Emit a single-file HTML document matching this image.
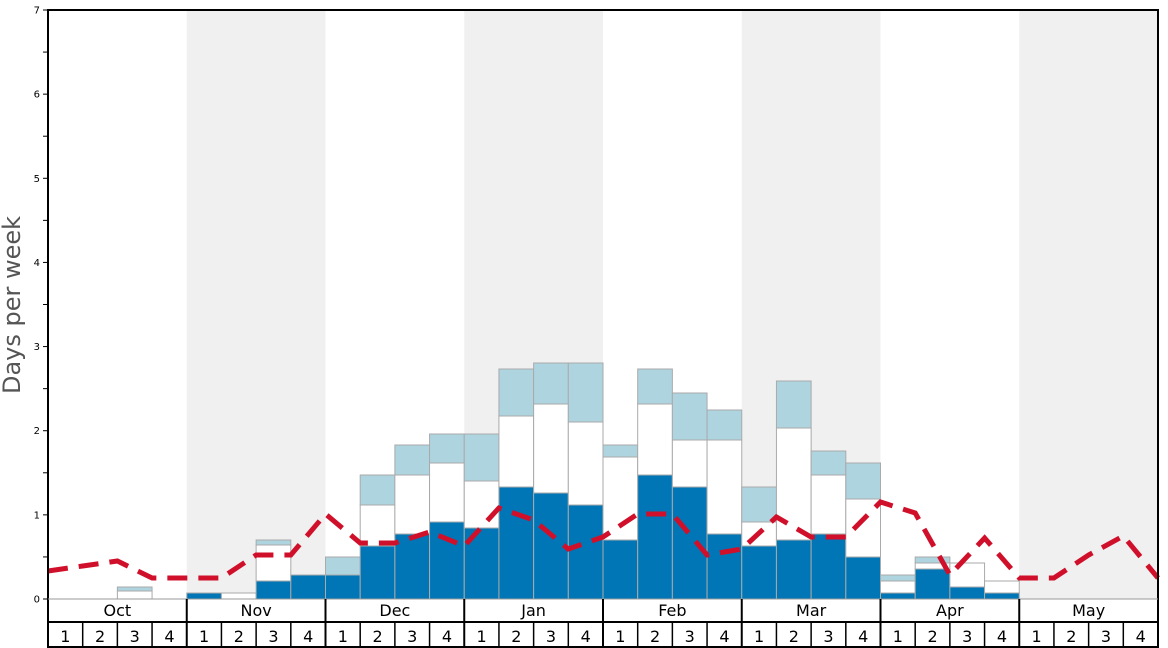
<!DOCTYPE html>
<html><head><meta charset="utf-8"><style>
body{margin:0;background:#fff;}
svg{display:block;font-family:"DejaVu Sans","Liberation Sans",sans-serif;}
</style></head><body>
<svg id="s" width="1168" height="648" viewBox="0 0 1168 648" xmlns="http://www.w3.org/2000/svg">
<rect width="1168" height="648" fill="#fff"/>
<g id="bg"></g>
<g id="bars"></g>
<g id="line"></g>
<g id="axes"></g>
</svg>
<script>
const NS="http://www.w3.org/2000/svg";
function el(p,t,a,txt){const e=document.createElementNS(NS,t);for(const k in a)e.setAttribute(k,a[k]);if(txt!==undefined)e.textContent=txt;document.getElementById(p).appendChild(e);return e;}
const X0=48,X1=1158,W=(X1-X0)/32,Y0=599,T=10;
const months=["Oct","Nov","Dec","Jan","Feb","Mar","Apr","May"];
for(let m=0;m<8;m++){if(m%2==1)el("bg","rect",{x:X0+m*4*W,y:T,width:4*W,height:Y0-T,fill:"#f0f0f0"});}
const B=[null,null,[599,591,587],null,
[593,593,593],[599,593,593],[581,545,540],[575,575,575],
[575,575,557],[546,505,475],[534,475,445],[522,463,434],
[528,481,434],[487,416,369],[493,404,363],[505,422,363],
[540,457,445],[475,404,369],[487,440,393],[534,440,410],
[546,522,487],[540,428,381],[534,475,451],[557,499,463],
[593,581,575],[569,563,557],[587,563,563],[593,581,581],
null,null,null,null];
B.forEach((b,i)=>{if(!b)return;const x=X0+i*W;
 if(b[2]<b[1])el("bars","rect",{x:x,y:b[2],width:W,height:b[1]-b[2],fill:"#aed4e0",stroke:"#aaa","stroke-width":1});
 if(b[1]<b[0])el("bars","rect",{x:x,y:b[1],width:W,height:b[0]-b[1],fill:"#fff",stroke:"#aaa","stroke-width":1});
 if(b[0]<Y0)el("bars","rect",{x:x,y:b[0],width:W,height:Y0-b[0],fill:"#0076b6",stroke:"#aaa","stroke-width":1});
});
const L=[571,566,561,578,578,578,555,555,514,543,543,532,546,508,520,549,537,514,514,555,549,517,537,537,502,513,575,538,578,578,555,536,578];
el("line","polyline",{points:L.map((y,k)=>(X0+k*W).toFixed(1)+","+y).join(" "),fill:"none",stroke:"#d0102a","stroke-width":5,"stroke-dasharray":"20,11"});
el("axes","rect",{x:X0,y:T,width:X1-X0,height:647-T,fill:"none",stroke:"#000","stroke-width":2});
el("axes","line",{x1:X0,y1:Y0,x2:X1,y2:Y0,stroke:"#999","stroke-width":1});
el("axes","line",{x1:X0,y1:622,x2:X1,y2:622,stroke:"#000","stroke-width":2});
for(let m=0;m<8;m++){const x=X0+m*4*W;
 if(m>0)el("axes","line",{x1:x,y1:Y0,x2:x,y2:647,stroke:"#000","stroke-width":2});
 el("axes","text",{x:x+2*W,y:616,"text-anchor":"middle","font-size":16,fill:"#000"},months[m]);
 for(let w=0;w<4;w++){const wx=x+w*W;
  if(w>0)el("axes","line",{x1:wx,y1:622,x2:wx,y2:647,stroke:"#000","stroke-width":1.5});
  el("axes","text",{x:wx+W/2,y:642,"text-anchor":"middle","font-size":16,fill:"#000"},String(w+1));}
}
const U=(Y0-T)/7;
for(let k=0;k<=14;k++){const y=Y0-k*U/2;
 el("axes","line",{x1:X0-5,y1:y,x2:X0,y2:y,stroke:"#000","stroke-width":1});
 if(k%2==0)el("axes","text",{x:X0-8,y:y+3.5,"text-anchor":"end","font-size":10,fill:"#000"},String(k/2));}
el("axes","text",{x:0,y:0,transform:"translate(20,305) rotate(-90)","text-anchor":"middle","font-size":24,fill:"#555"},"Days per week");
</script>
</body></html>
